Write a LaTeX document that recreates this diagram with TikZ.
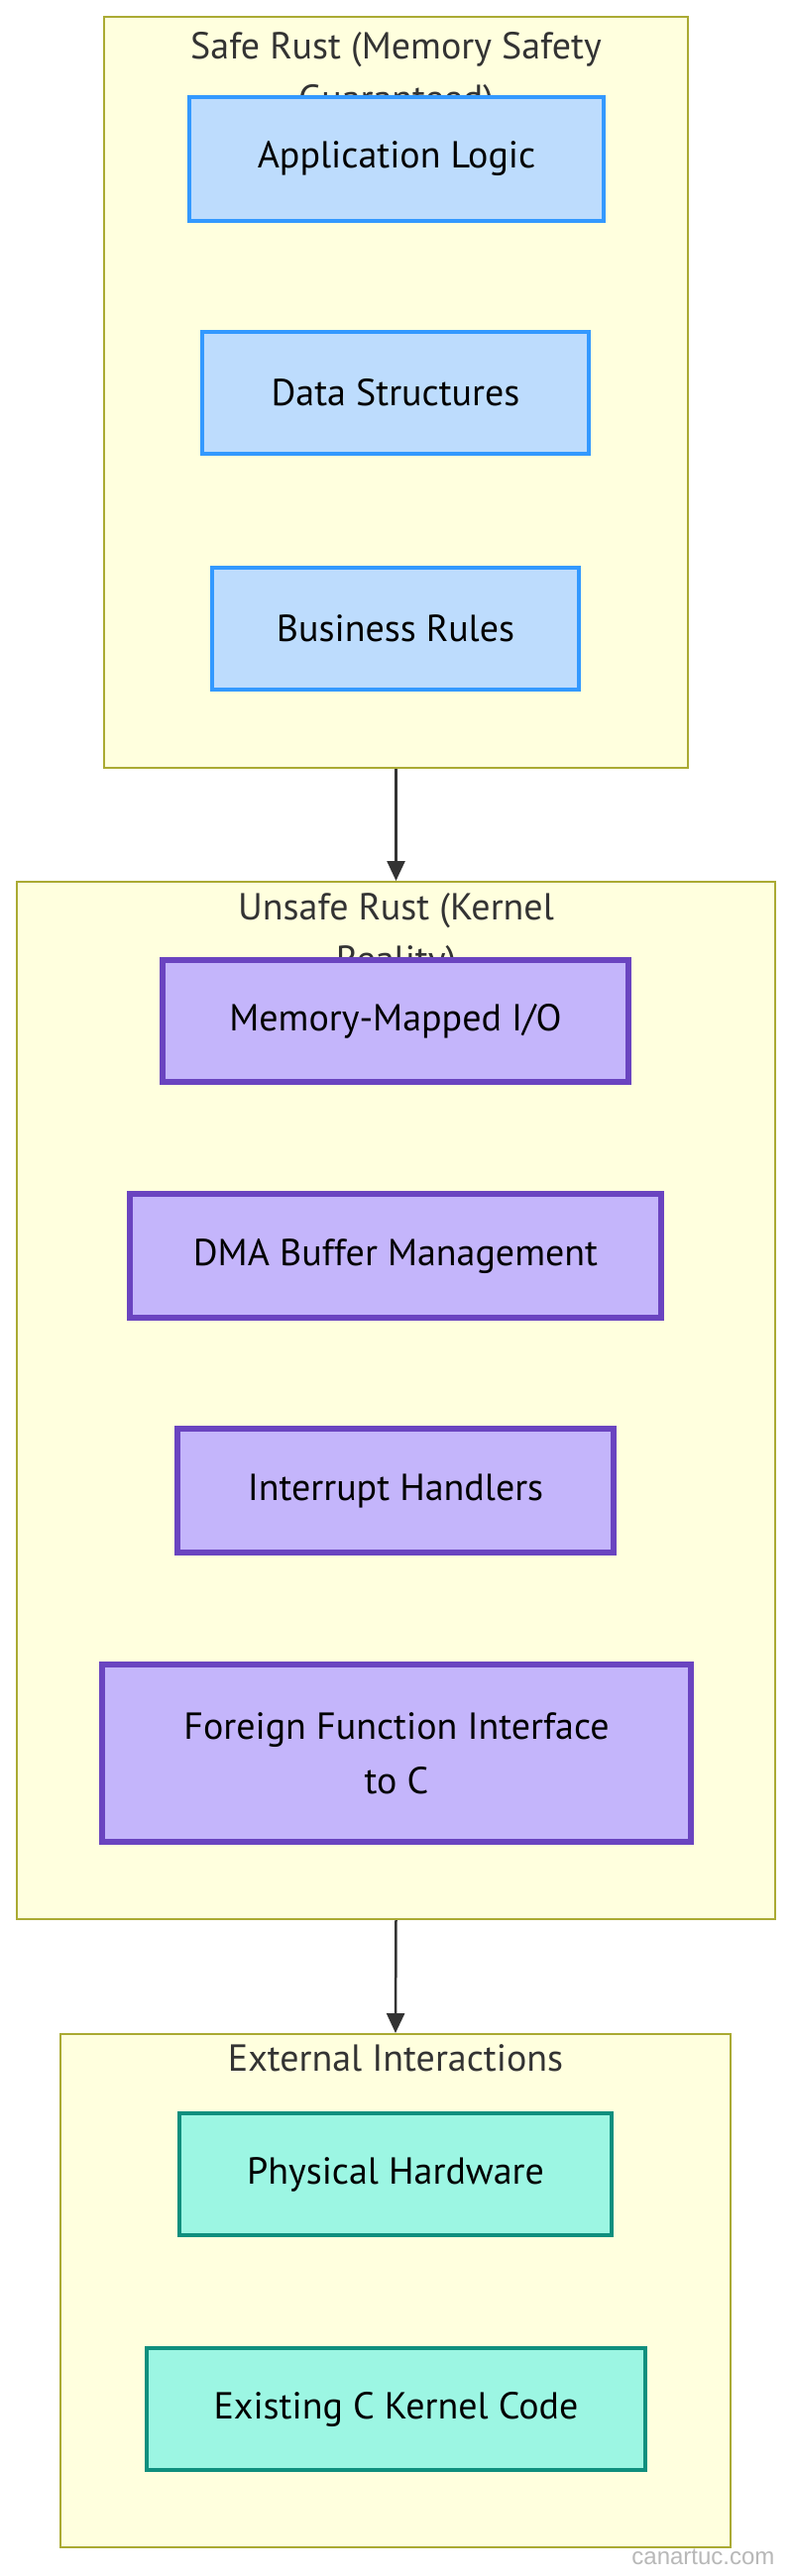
\documentclass[tikz,border=0pt]{standalone}
\usepackage{fontspec}
\setmainfont{PT Sans}
\newfontfamily\markfont{Liberation Sans}
\usetikzlibrary{arrows.meta,positioning}
\definecolor{clusterfill}{HTML}{FFFFDE}
\definecolor{clusterline}{HTML}{AAAA33}
\definecolor{safefill}{HTML}{BDDCFD}
\definecolor{safeline}{HTML}{3399FF}
\definecolor{unsafefill}{HTML}{C4B5FB}
\definecolor{unsafeline}{HTML}{6A44C0}
\definecolor{extfill}{HTML}{9CF6E3}
\definecolor{extline}{HTML}{0F8F7E}
\definecolor{ink}{HTML}{333333}

\begin{document}
\begin{tikzpicture}[x=1pt, y=-1pt, >=Triangle,
  cluster/.style={draw=clusterline, fill=clusterfill, line width=2pt, inner sep=0pt},
  grouptitle/.style={font=\fontsize{38}{53}\selectfont, text=ink, align=center,
    anchor=north, inner sep=0pt},
  item/.style={line width=4pt, minimum height=123pt, inner sep=0pt, align=center,
    font=\fontsize{38}{55}\selectfont},
  safebox/.style={item, draw=safeline, fill=safefill},
  unsafebox/.style={item, draw=unsafeline, fill=unsafefill, line width=5.5pt},
  extbox/.style={item, draw=extline, fill=extfill},
  link/.style={draw=ink, line width=2.5pt,
    arrows={-Triangle[length=20pt, width=18pt]}}]
  \fill[white] (0,0) rectangle (800,2600);
  \useasboundingbox (0,0) rectangle (800,2600);

  % safe rust
  \node[cluster, minimum width=589pt, minimum height=758pt] (safe) at (399.5,396) {};
  \node[grouptitle] (safetitle) at (399.5,32) {Safe Rust (Memory Safety\\Guaranteed)};
  \node[safebox, minimum width=418pt, minimum height=125pt] (app) at (400,160) {Application Logic};
  \node[safebox, minimum width=390pt] (data) at (399,396.5) {Data Structures};
  \node[safebox, minimum width=370pt] (biz) at (399,634) {Business Rules};

  % unsafe rust
  \node[cluster, minimum width=765pt, minimum height=1047pt] (unsafe) at (399.5,1413.5) {};
  \node[grouptitle] (unsafetitle) at (399.5,901) {Unsafe Rust (Kernel\\Reality)};
  \node[unsafebox, minimum width=470pt] (mmio) at (399,1030.5) {Memory-Mapped I/O};
  \node[unsafebox, minimum width=536pt, minimum height=125pt] (dma) at (399,1267.5) {DMA Buffer Management};
  \node[unsafebox, minimum width=440pt, minimum height=125pt] (irq) at (399,1504.5) {Interrupt Handlers};
  \node[unsafebox, minimum width=594pt, minimum height=179pt] (ffi) at (400,1769.5) {Foreign Function Interface\\to C};

  % external interactions
  \node[cluster, minimum width=676pt, minimum height=518pt] (ext) at (399,2312) {};
  \node[grouptitle] (exttitle) at (399,2063) {External Interactions};
  \node[extbox, minimum width=436pt] (hw) at (399,2194.5) {Physical Hardware};
  \node[extbox, minimum width=503pt] (ckern) at (399.5,2431.5) {Existing C Kernel Code};

  \draw[link] (safe.south) -- (unsafe.north);
  \draw[link] (unsafe.south) -- (ext.north);

  \node[font=\markfont\fontsize{24}{28}\selectfont, text=black!28, anchor=base east] (mark) at (785,2588) {canartuc.com};
\end{tikzpicture}
\end{document}
